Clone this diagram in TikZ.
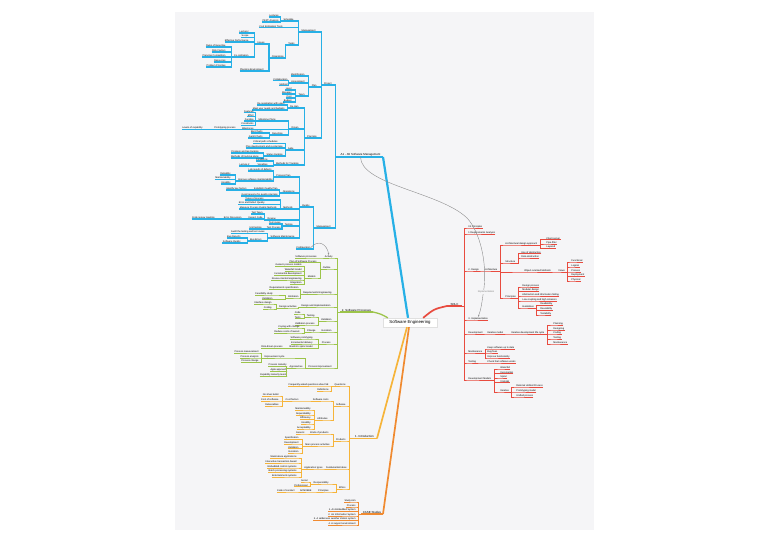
\documentclass[tikz,border=0pt]{standalone}
\usepackage{fontspec}
\setmainfont{Liberation Sans}
\usetikzlibrary{arrows.meta}
\definecolor{mmBlue}{HTML}{27B0E6}
\definecolor{cGr}{HTML}{9CC44A}
\definecolor{cRd}{HTML}{E84B3F}
\definecolor{cOr}{HTML}{F6B43A}
\definecolor{cCs}{HTML}{F08A30}
\definecolor{cPanel}{HTML}{F5F5F7}
\tikzset{
 tn/.style={font=\fontsize{2.4}{2.8}\selectfont, inner sep=0.45pt, outer sep=0pt, text=black},
 rt/.style={font=\fontsize{2.9}{3.3}\selectfont, inner sep=0.6pt, outer sep=0pt, text=black},
 blueln/.style={draw=mmBlue, line width=1.2pt},
 grl/.style={draw=cGr, line width=0.9pt},
 rdl/.style={draw=cRd, line width=0.9pt},
 orl/.style={draw=cOr, line width=0.9pt},
 csl/.style={draw=cCs, line width=1pt},
 rel/.style={draw=black!45, line width=0.4pt, -{Stealth[length=2pt,width=1.6pt]}},
}
\newcommand\mmL[6]{\node[tn,anchor=south east] (#1) at (#3,#4) {#6};
 \draw[#5] (#1.south west) -- (#1.south east) -| ([xshift=-2.5pt]#2.south west) -- (#2.south west);}
\newcommand\mmR[6]{\node[tn,anchor=south west] (#1) at (#3,#4) {#6};
 \draw[#5] (#1.south east) -- (#1.south west) -| ([xshift=2.5pt]#2.south east) -- (#2.south east);}
\begin{document}
\begin{tikzpicture}[x=1pt,y=-1pt]
\useasboundingbox (0,0) rectangle (768,543);
\fill[white] (0,0) rectangle (768,543);
\fill[cPanel] (175,12) rectangle (594,530);
% central topic
\node[fill=white, draw=black!12, line width=0.3pt, font=\fontsize{4.3}{5}\selectfont, minimum width=54pt, minimum height=9pt, inner sep=1pt] (se) at (410,322.5) {Software Engineering};
% main topics
\node[rt,anchor=south east,minimum width=45pt] (a1) at (383,157) {A1 - A5 Software Management};
\node[rt,anchor=south east,minimum width=33pt] (sp) at (373,312) {2. Software Processes};
\node[rt,anchor=south west,minimum width=15pt] (sdlc) at (447,306) {SDLC};
\node[rt,anchor=south east,minimum width=25pt] (intro) at (377,438.5) {1. Introduction};
\node[rt,anchor=south east,minimum width=22pt] (case) at (383,514) {CASE Studies};
\draw[mmBlue,line width=1.4pt] (a1.south west) -- (a1.south east);
\draw[cGr,line width=1.1pt] (sp.south west) -- (sp.south east);
\draw[cRd,line width=1.1pt] (sdlc.south west) -- (sdlc.south east);
\draw[cOr,line width=1.1pt] (intro.south west) -- (intro.south east);
\draw[cCs,line width=1.1pt] (case.south west) -- (case.south east);
\draw[mmBlue,line width=2.2pt] ([xshift=-2pt]se.north) -- (a1.south east);
\draw[cGr,line width=1.3pt] ([xshift=5pt]se.north west) .. controls (381,314) .. (sp.south east);
\draw[cRd,line width=1.7pt] ([xshift=-14pt]se.north east) .. controls (434,309) .. (sdlc.south west);
\draw[cOr,line width=1.7pt] ([xshift=-3pt]se.south) -- (intro.south east);
\draw[cCs,line width=1.7pt] ([xshift=-1pt]se.south) -- (case.south east);
% ---------------- BLUE ----------------
\mmL{proj}{a1}{332}{85}{blueln}{Project}
\mmL{mgb}{a1}{331}{228}{blueln}{Management}
\mmL{mgt}{proj}{316}{32}{blueln}{Management}
\mmL{plan}{proj}{317}{87}{blueln}{Plan}
\mmL{plng}{proj}{317}{138}{blueln}{Planning}
\mmL{sch}{mgt}{294}{21}{blueln}{Schedule}
\mmL{cet}{mgt}{283}{27.5}{blueln}{Cost Estimation Tools}
\mmL{tsk}{mgt}{295}{45}{blueln}{Tasks}
\mmL{lec}{sch}{279}{17}{blueln}{Lectures}
\mmL{pert}{sch}{279}{22}{blueln}{PERT Analysis}
\mmL{org}{tsk}{284}{58}{blueln}{Organizing}
\mmL{iss}{org}{265}{44}{blueln}{Issues}
\mmL{penv}{org}{264}{71}{blueln}{Planning Environment}
\mmL{lect}{iss}{249}{33}{blueln}{Lecturer}
\mmL{scp}{iss}{249}{37.5}{blueln}{Scope}
\mmL{effp}{iss}{249}{42}{blueln}{Effective Performance}
\mmL{coord}{iss}{249}{57}{blueln}{Co-ordination}
\mmL{rex}{coord}{226}{47}{blueln}{Rules of Expertise}
\mmL{rfa}{coord}{226}{52}{blueln}{Risk Factors}
\mmL{pcomp}{coord}{226}{57}{blueln}{Planning Competition}
\mmL{res}{coord}{226}{62}{blueln}{Resources}
\mmL{ppri}{coord}{226}{67}{blueln}{Problem Priorities}
\mmL{ident}{plan}{305}{76}{blueln}{Identification}
\mmL{assess}{plan}{305}{83}{blueln}{Assessment}
\mmL{team}{plan}{305}{96}{blueln}{Team}
\mmL{colb}{assess}{288}{80.5}{blueln}{Collaboration}
\mmL{meth1}{assess}{288}{85.5}{blueln}{Method}
\mmL{lvl}{team}{292}{90}{blueln}{Level}
\mmL{mgr}{team}{292}{94}{blueln}{Manager}
\mmL{cost}{team}{292}{98}{blueln}{Cost}
\mmL{bdg}{team}{292}{102}{blueln}{Budget}
\mmL{rpl}{plng}{299}{108}{blueln}{Re-plan}
\mmL{drv}{plng}{299}{129}{blueln}{Driven}
\mmL{agl}{plng}{294}{150}{blueln}{Agile}
\mmL{mtrk}{plng}{299}{165}{blueln}{Methods for Tracking}
\mmL{rnu}{rpl}{285}{105}{blueln}{Re-negotiation with users}
\mmL{mun}{rpl}{285}{110}{blueln}{Meet user needs and budgets}
\mmL{trd}{drv}{276}{121}{blueln}{Milestone Plans}
\mmL{mil}{drv}{254}{129.5}{blueln}{Milestones}
\mmL{rep}{drv}{283}{135}{blueln}{Reporting}
\mmL{ftr}{trd}{254}{112.5}{blueln}{Features}
\mmL{eff}{trd}{254}{116.8}{blueln}{Effort}
\mmL{fnd}{trd}{254}{121}{blueln}{Funding}
\mmL{cns}{trd}{254}{125.3}{blueln}{Constraints}
\mmL{prp}{mil}{236}{129.5}{blueln}{Prototyping process}
\mmL{wlc}{prp}{203}{129.5}{blueln}{Levels of capability}
\mmL{bch}{rep}{263}{133}{blueln}{Bar Charts}
\mmL{gch}{rep}{263}{138}{blueln}{Gantt Charts}
\mmL{cps}{agl}{278}{143.5}{blueln}{Critical path schedules}
\mmL{pdr}{agl}{283}{148}{blueln}{Plan development and re-planning}
\mmL{strk}{agl}{283}{156}{blueln}{Status tracking}
\mmL{plt}{strk}{259}{153}{blueln}{Progress and lag tracking}
\mmL{mtp}{strk}{259}{158}{blueln}{Methods of tracking plans}
\mmL{cnd}{mtrk}{268}{161}{blueln}{Conditions}
\mmL{vars}{mtrk}{268}{166}{blueln}{Variables}
\mmL{lc2}{vars}{250}{166}{blueln}{Lecture 2}
\mmL{qual}{mgb}{310}{207}{blueln}{Quality}
\mmL{conf}{mgb}{311}{249}{blueln}{Configuration}
\mmL{pp}{qual}{291}{177}{blueln}{Process Plan}
\mmL{ops}{qual}{295}{193}{blueln}{Operations}
\mmL{meth}{qual}{293}{209}{blueln}{Methods}
\mmL{rvw}{qual}{276}{220}{blueln}{Review}
\mmL{tsg}{qual}{293}{226}{blueln}{Testing}
\mmL{swm}{qual}{295}{238}{blueln}{Software Maintenance}
\mmL{lrd}{pp}{272}{171}{blueln}{Lab results of defects}
\mmL{imsm}{pp}{273}{181}{blueln}{Improve software maintainability}
\mmL{rel1}{imsm}{231}{175}{blueln}{Reliability}
\mmL{mnt1}{imsm}{231}{179.5}{blueln}{Maintainability}
\mmL{usb1}{imsm}{231}{184}{blueln}{Usability}
\mmL{estp}{ops}{278}{190}{blueln}{Establish Quality Plan}
\mmL{grq}{ops}{278}{196}{blueln}{Good reasons for quality planning}
\mmL{ikf}{estp}{247}{190}{blueln}{Identify key factors}
\mmL{topr}{meth}{264}{200}{blueln}{Types of process}
\mmL{edq}{meth}{265}{204.5}{blueln}{Error and Defect Quality}
\mmL{mpq}{meth}{277}{209}{blueln}{Measure Process Quality Methods}
\mmL{ttm}{rvw}{263}{214}{blueln}{Test Team}
\mmL{insp}{rvw}{263}{219}{blueln}{Inspect Code}
\mmL{errd}{insp}{242}{219}{blueln}{Error Discussion}
\mmL{crm}{errd}{215}{219}{blueln}{Code review meeting}
\mmL{tcs}{tsg}{281}{224}{blueln}{Test cases}
\mmL{tpr}{tsg}{281}{229}{blueln}{Test Process}
\mmL{utt}{tpr}{262}{229}{blueln}{Unit testing}
\mmL{att}{swm}{265}{233.5}{blueln}{Audit the testing and test cases}
\mmL{bug}{swm}{262}{241}{blueln}{Bug Errors}
\mmL{bgr}{bug}{241}{238}{blueln}{Bug Reports}
\mmL{sqa}{bug}{241}{243}{blueln}{Software Quality}
% ---------------- GREEN ----------------
\mmL{act}{sp}{333}{258}{grl}{Activity}
\mmL{outl}{sp}{331}{269}{grl}{Outline}
\mmL{req}{sp}{332}{294}{grl}{Requirements Engineering}
\mmL{di}{sp}{331}{307}{grl}{Design and Implementation}
\mmL{val}{sp}{332}{321}{grl}{Validation}
\mmL{evo}{sp}{332}{332}{grl}{Evolution}
\mmL{prc}{sp}{331}{344}{grl}{Process}
\mmL{pim}{sp}{332}{368}{grl}{Process improvement}
\mmL{spa}{act}{317}{258}{grl}{Software processes}
\mmL{psp}{outl}{317}{262.5}{grl}{Plan of Software Process}
\mmL{mdl}{outl}{316}{278}{grl}{Models}
\mmL{pms}{mdl}{302}{266.5}{grl}{Generic process models}
\mmL{wtf}{mdl}{302}{271}{grl}{Waterfall model}
\mmL{incd}{mdl}{302}{275.5}{grl}{Incremental development}
\mmL{reu}{mdl}{302}{280}{grl}{Reuse-oriented engineering}
\mmL{intg}{mdl}{302}{284.5}{grl}{Integration}
\mmL{rsp}{req}{299}{289.5}{grl}{Requirements specification}
\mmL{eli}{req}{299}{298}{grl}{Elicitation}
\mmL{fst}{eli}{273}{295}{grl}{Feasibility study}
\mmL{rva}{eli}{273}{299.5}{grl}{Validation}
\mmL{dac}{di}{297}{308}{grl}{Design activities}
\mmL{ifd}{dac}{272}{304}{grl}{Interface design}
\mmL{cod}{dac}{272}{309}{grl}{Coding}
\mmL{tst}{val}{315}{317}{grl}{Testing}
\mmL{vpr}{val}{315}{325}{grl}{Validation process}
\mmL{cde}{tst}{301}{314}{grl}{Code}
\mmL{tsts}{tst}{301}{318.5}{grl}{Tests}
\mmL{chg}{evo}{316}{332}{grl}{Change}
\mmL{cwc}{chg}{300}{328}{grl}{Coping with change}
\mmL{rcr}{chg}{300}{333}{grl}{Reduce costs of rework}
\mmL{spt}{prc}{313}{339}{grl}{Software prototyping}
\mmL{idv}{prc}{313}{344}{grl}{Incremental delivery}
\mmL{bsm}{prc}{313}{348.5}{grl}{Boehm's spiral model}
\mmL{rdp}{bsm}{283}{348.5}{grl}{Risk-driven process}
\mmL{icy}{pim}{285}{358}{grl}{Improvement cycle}
\mmL{apr}{pim}{303}{368}{grl}{Approaches}
\mmL{pms2}{icy}{259}{353}{grl}{Process measurement}
\mmL{pan}{icy}{259}{358}{grl}{Process analysis}
\mmL{pch}{icy}{259}{362.5}{grl}{Process change}
\mmL{pmt}{apr}{287}{366.5}{grl}{Process maturity}
\mmL{aga}{apr}{287}{371.5}{grl}{Agile approach}
\mmL{cml}{apr}{287}{376.5}{grl}{Capability maturity levels}
% ---------------- ORANGE: Introduction ----------------
\mmL{qst}{intro}{346}{386}{orl}{Questions}
\mmL{sw}{intro}{346}{406}{orl}{Software}
\mmL{prod}{intro}{346}{441}{orl}{Products}
\mmL{fund}{intro}{347}{469}{orl}{Fundamental Ideas}
\mmL{eth}{intro}{346}{489}{orl}{Ethics}
\mmL{faq}{qst}{329}{386}{orl}{Frequently asked questions about SE}
\mmL{spd}{qst}{329}{391}{orl}{Definitions}
\mmL{swc}{sw}{329}{401}{orl}{Software costs}
\mmL{attr}{sw}{328}{420}{orl}{Attributes}
\mmL{cfs}{swc}{299}{401}{orl}{Cost factors}
\mmL{nsb}{cfs}{279}{396}{orl}{No silver bullet}
\mmL{cos}{cfs}{279}{401}{orl}{Cost of software}
\mmL{dlv}{cfs}{279}{406}{orl}{Deliverables}
\mmL{a1m}{attr}{311}{410}{orl}{Maintainability}
\mmL{a2d}{attr}{311}{415}{orl}{Dependability}
\mmL{a3e}{attr}{311}{419.5}{orl}{Efficiency}
\mmL{a4u}{attr}{311}{424}{orl}{Usability}
\mmL{a5a}{attr}{311}{429}{orl}{Acceptability}
\mmL{kp}{prod}{329}{434}{orl}{Kinds of products}
\mmL{gen}{kp}{305}{434}{orl}{Generic}
\mmL{mpa}{prod}{330}{446}{orl}{Main process activities}
\mmL{ma1}{mpa}{299}{439.5}{orl}{Specification}
\mmL{ma2}{mpa}{299}{444}{orl}{Development}
\mmL{ma3}{mpa}{299}{448.5}{orl}{Validation}
\mmL{ma4}{mpa}{299}{453}{orl}{Evolution}
\mmL{apt}{fund}{323}{469}{orl}{Application types}
\mmL{ta1}{apt}{297}{458}{orl}{Stand-alone applications}
\mmL{ta2}{apt}{297}{463}{orl}{Interactive transaction-based}
\mmL{ta3}{apt}{297}{468}{orl}{Embedded control systems}
\mmL{ta4}{apt}{297}{472.5}{orl}{Batch processing systems}
\mmL{ta5}{apt}{297}{477}{orl}{Entertainment systems}
\mmL{resp}{eth}{329}{484}{orl}{Responsibility}
\mmL{prin}{eth}{329}{492}{orl}{Principles}
\mmL{soc}{resp}{308}{482}{orl}{Social}
\mmL{prf}{resp}{308}{486.5}{orl}{Professional}
\mmL{acm}{prin}{312}{492}{orl}{ACM/IEEE}
\mmL{coc}{acm}{295}{492}{orl}{Code of conduct}
% ---------------- ORANGE: CASE Studies ----------------
\mmL{cs0}{case}{356}{502}{csl}{Study Aim}
\mmL{cs1}{case}{356}{507}{csl}{Process}
\mmL{cs2}{case}{356}{511.5}{csl}{1. An Embedded System}
\mmL{cs3}{case}{356}{516}{csl}{2. An Information System}
\mmL{cs4}{case}{356}{520.5}{csl}{3. A wilderness weather station system}
\mmL{cs5}{case}{356}{525}{csl}{4. A support environment}
% ---------------- RED: SDLC ----------------
\mmR{p01}{sdlc}{468}{228}{rdl}{01 Principles}
\mmR{rqa}{sdlc}{468}{234}{rdl}{1 Requirements Analysis}
\mmR{des}{sdlc}{468}{271}{rdl}{2. Design}
\mmR{imp}{sdlc}{468}{320}{rdl}{3. Implementation}
\mmR{dev}{sdlc}{468}{334}{rdl}{Development}
\mmR{mnt}{sdlc}{468}{353}{rdl}{Maintenance}
\mmR{tst2}{sdlc}{468}{363}{rdl}{Testing}
\mmR{dm}{sdlc}{468}{380}{rdl}{Development Models}
\mmR{arch}{des}{484}{271}{rdl}{Architecture}
\mmR{ada}{arch}{505}{245}{rdl}{Architectural design approach}
\mmR{str}{arch}{505}{263}{rdl}{Structure}
\mmR{oom}{arch}{524}{272}{rdl}{Object-oriented Methods}
\mmR{prn}{arch}{505}{298}{rdl}{Principles}
\mmR{csv}{ada}{546}{239.5}{rdl}{Client-server}
\mmR{pfl}{ada}{546}{244}{rdl}{Pipe-filter}
\mmR{lyr}{ada}{546}{248.5}{rdl}{Layered}
\mmR{uoa}{str}{521}{253.5}{rdl}{Use of abstraction}
\mmR{dab}{str}{521}{258}{rdl}{Data abstraction}
\mmR{vws}{oom}{558}{272}{rdl}{Views}
\mmR{vw1}{vws}{571}{262}{rdl}{Functional}
\mmR{vw2}{vws}{571}{267}{rdl}{Logical}
\mmR{vw3}{vws}{571}{272}{rdl}{Process}
\mmR{vw4}{vws}{571}{276.5}{rdl}{Deployment}
\mmR{vw5}{vws}{571}{281}{rdl}{Physical}
\mmR{dpr}{prn}{522}{287}{rdl}{Design process}
\mmR{mdd}{prn}{522}{291.5}{rdl}{Modular design}
\mmR{aih}{prn}{522}{296}{rdl}{Abstraction and information hiding}
\mmR{lch}{prn}{522}{301}{rdl}{Low coupling and high cohesion}
\mmR{gdl}{prn}{522}{308}{rdl}{Guidelines}
\mmR{gd1}{gdl}{540}{305.5}{rdl}{Readability}
\mmR{gd2}{gdl}{540}{310.5}{rdl}{Reusability}
\mmR{gd3}{gdl}{540}{315}{rdl}{Testability}
\mmR{itm}{dev}{487}{334}{rdl}{Iterative model}
\mmR{idl}{itm}{511}{334}{rdl}{Iterative development life cycle}
\mmR{id1}{idl}{553}{325}{rdl}{Planning}
\mmR{id2}{idl}{553}{330}{rdl}{Designing}
\mmR{id3}{idl}{553}{334}{rdl}{Coding}
\mmR{id4}{idl}{553}{339}{rdl}{Testing}
\mmR{id5}{idl}{553}{344}{rdl}{Maintenance}
\mmR{km1}{mnt}{487}{349}{rdl}{Keep software up to date}
\mmR{km2}{mnt}{487}{353}{rdl}{Bug fixes}
\mmR{km3}{mnt}{487}{358}{rdl}{Improve functionality}
\mmR{ckw}{tst2}{487}{363}{rdl}{Check that software works}
\mmR{wm1}{dm}{500}{369}{rdl}{Waterfall}
\mmR{wm2}{dm}{500}{373.5}{rdl}{Incremental}
\mmR{wm3}{dm}{500}{378}{rdl}{Spiral}
\mmR{wm4}{dm}{500}{382.5}{rdl}{V-Model}
\mmR{itr}{dm}{500}{392}{rdl}{Iterative}
\mmR{ru1}{itr}{516}{387}{rdl}{Rational Unified Process}
\mmR{ru2}{itr}{516}{392}{rdl}{Prototyping model}
\mmR{ru3}{itr}{516}{397}{rdl}{Unified process}
% ---------------- relationships ----------------
\draw[rel] (a1.south) .. controls (361,185) and (440,192) .. (467,218) .. controls (480,232) and (487,262) .. (484,288) .. controls (482,302) and (481,310) .. (imp.north);
\node[tn, text=black!50, fill=cPanel] (rlab) at (486,292) {Implementation};
\draw[rel] (conf.east) .. controls (318,239) and (327,244) .. (act.north);
\end{tikzpicture}
\end{document}
